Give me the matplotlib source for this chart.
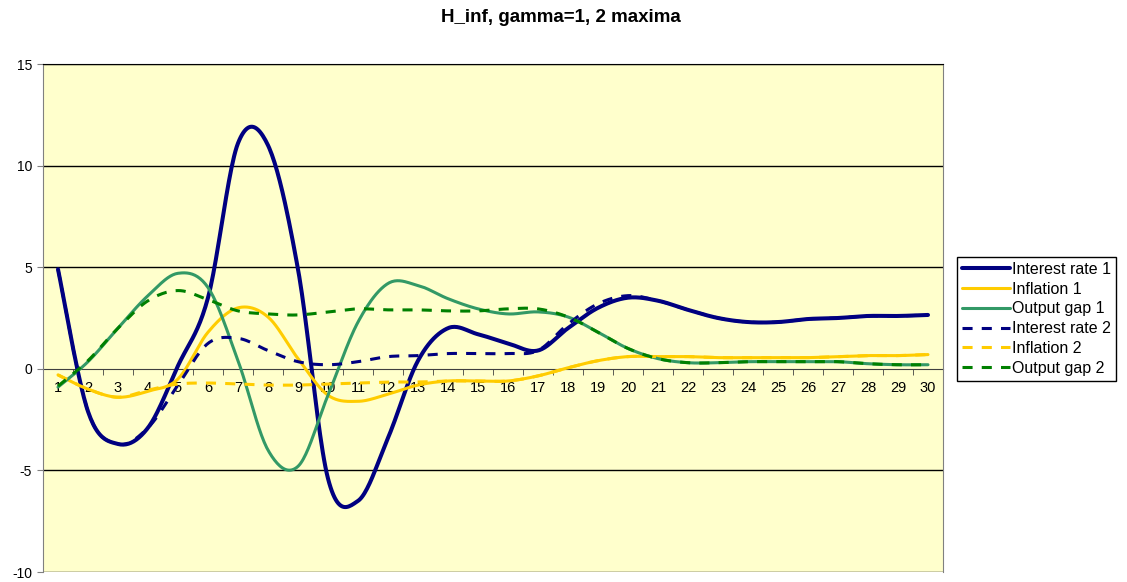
import numpy as np
import matplotlib.pyplot as plt

plt.rcParams['font.family'] = ['Liberation Sans', 'DejaVu Sans']
plt.rcParams['axes.unicode_minus'] = False

TITLE = "H_inf, gamma=1, 2 maxima"

periods = list(range(1, 31))

interest_1 = [4.9, -2.1, -3.7, -2.9, 0.15, 3.5, 11.1, 11.0, 4.9, -5.4,
              -6.5, -3.4, 0.4, 2.0, 1.7, 1.25, 0.9, 2.0, 3.0, 3.5,
              3.35, 2.9, 2.5, 2.3, 2.3, 2.45, 2.5, 2.6, 2.6, 2.65]
inflation_1 = [-0.3, -1.0, -1.4, -1.1, -0.5, 1.8, 3.0, 2.55, 0.5, -1.3,
               -1.6, -1.25, -0.8, -0.6, -0.6, -0.6, -0.35, 0.05, 0.4, 0.6,
               0.6, 0.6, 0.55, 0.55, 0.55, 0.55, 0.6, 0.65, 0.65, 0.7]
output_1 = [-0.9, 0.35, 2.0, 3.6, 4.7, 4.0, 0.4, -4.0, -4.8, -1.3,
            2.3, 4.2, 4.1, 3.45, 2.95, 2.7, 2.8, 2.55, 1.8, 1.0,
            0.5, 0.3, 0.3, 0.35, 0.35, 0.35, 0.35, 0.25, 0.2, 0.2]
interest_2 = [4.9, -2.1, -3.7, -2.9, -0.8, 1.25, 1.5, 0.9, 0.35, 0.2,
              0.35, 0.6, 0.65, 0.75, 0.75, 0.75, 0.9, 2.2, 3.2, 3.6,
              3.35, 2.9, 2.5, 2.3, 2.3, 2.45, 2.5, 2.6, 2.6, 2.65]
inflation_2 = [-0.3, -1.0, -1.4, -1.05, -0.75, -0.7, -0.75, -0.8, -0.8, -0.75,
               -0.7, -0.65, -0.65, -0.6, -0.6, -0.6, -0.35, 0.05, 0.4, 0.6,
               0.6, 0.6, 0.55, 0.55, 0.55, 0.55, 0.6, 0.65, 0.65, 0.7]
output_2 = [-0.85, 0.4, 2.0, 3.35, 3.85, 3.4, 2.85, 2.7, 2.65, 2.8,
            2.95, 2.9, 2.9, 2.85, 2.85, 2.95, 2.95, 2.55, 1.8, 1.0,
            0.5, 0.3, 0.3, 0.35, 0.35, 0.35, 0.35, 0.25, 0.2, 0.2]

labels = ["Interest rate 1", "Inflation 1", "Output gap 1",
          "Interest rate 2", "Inflation 2", "Output gap 2"]
series = [interest_1, inflation_1, output_1, interest_2, inflation_2, output_2]
colors = ["#000080", "#FFCC00", "#339966", "#000080", "#FFCC00", "#008000"]


def smooth(xs, ys, n=24):
    # Excel-style smoothed line: cubic bezier through the points
    pts = np.column_stack([xs, ys]).astype(float)
    out = [pts[0]]
    t = np.linspace(0, 1, n)[1:, None]
    for i in range(len(pts) - 1):
        p0 = pts[max(i - 1, 0)]
        p1 = pts[i]
        p2 = pts[i + 1]
        p3 = pts[min(i + 2, len(pts) - 1)]
        c1 = p1 + (p2 - p0) / 6
        c2 = p2 - (p3 - p1) / 6
        seg = ((1 - t) ** 3) * p1 + 3 * ((1 - t) ** 2) * t * c1 \
            + 3 * (1 - t) * t ** 2 * c2 + t ** 3 * p2
        out.extend(seg)
    out = np.array(out)
    return out[:, 0], out[:, 1]


fig = plt.figure(figsize=(11.27, 5.82), dpi=100)
ax = fig.add_axes([43 / 1127, 1 - 572 / 582, 900 / 1127, 508 / 582])
ax.set_facecolor("#FFFFCC")

for y in [-10, -5, 5, 10, 15]:
    ax.axhline(y, color="black", lw=1, zorder=1)

for i, (vals, color, label) in enumerate(zip(series, colors, labels)):
    sx, sy = smooth(periods, vals)
    if i < 3:
        ax.plot(sx, sy, color=color, lw=2.9 if i == 0 else 2.2, label=label,
                solid_capstyle="round", zorder=3)
    else:
        ax.plot(sx, sy, color=color, lw=2.2, label=label, dashes=(3.3, 3.0),
                dash_capstyle="butt", zorder=4)

ax.set_xlim(0.5, 30.5)
ax.set_ylim(-10, 15)

ax.spines["bottom"].set_position(("data", 0))
ax.spines["bottom"].set_color("#404040")
ax.spines["bottom"].set_zorder(2)
ax.spines["left"].set_color("#808080")
ax.spines["right"].set_color("#808080")
ax.spines["top"].set_color("black")

ax.set_xticks(periods)
ax.set_xticklabels([str(p) for p in periods])
ax.set_xticks([p + 0.5 for p in periods[:-1]], minor=True)
ax.tick_params(axis="x", which="major", length=0, pad=9, labelsize=10.5)
ax.tick_params(axis="x", which="minor", length=4, direction="out", color="#404040")

ax.set_yticks(range(-10, 16, 5))
ax.tick_params(axis="y", which="major", length=4.3, direction="out", color="#808080",
               pad=3.6, labelsize=10)

fig.text(561 / 1127, 1 - 18 / 582, TITLE, ha="center", va="center",
         fontsize=13.5, fontweight="bold")

leg = fig.legend(loc="upper left", bbox_to_anchor=(957 / 1127, 1 - 257 / 582),
                 frameon=True, fancybox=False, edgecolor="black", framealpha=1,
                 borderpad=0.3, borderaxespad=0, handlelength=3.0, handletextpad=0.15,
                 labelspacing=0.3, fontsize=11.5)
leg.get_frame().set_linewidth(1)

fig.savefig("out.png", dpi=100, facecolor="white")
plt.close()
